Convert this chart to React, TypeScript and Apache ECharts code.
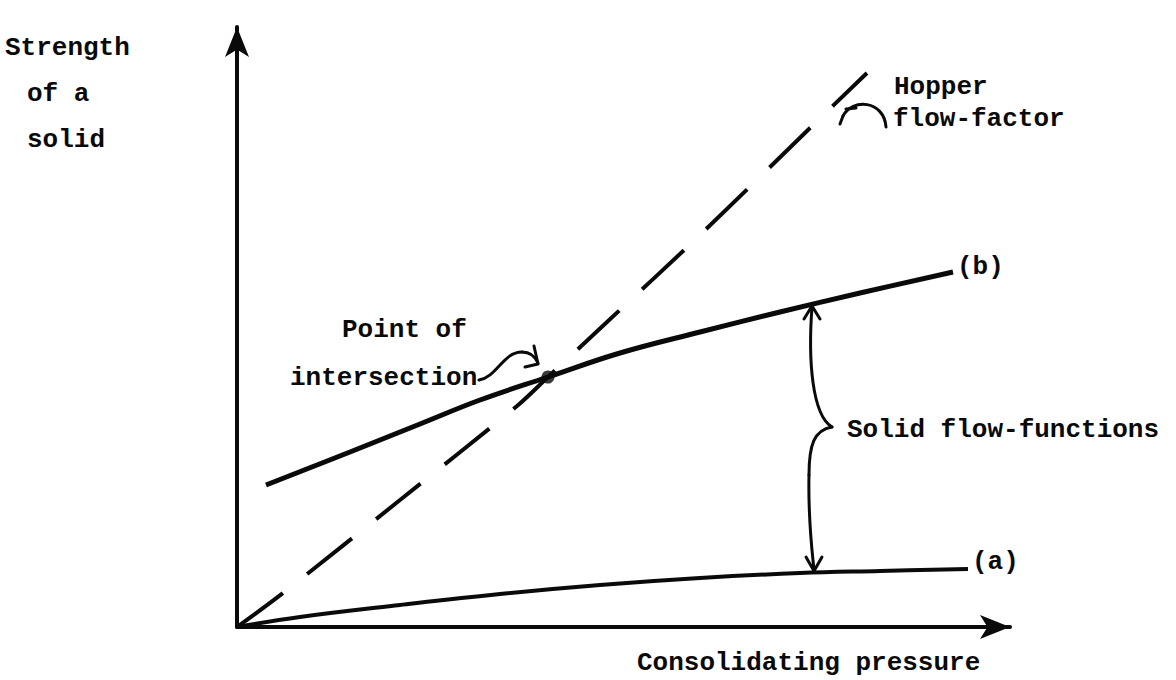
import React, { useEffect, useRef } from "react";
import * as echarts from "echarts";

// Data in chart units (x: consolidating pressure, y: strength), origin at the axes' corner
const flowFunctionA: number[][] = [
  [0, 0], [63, 10], [163, 22], [263, 33], [363, 42], [463, 49], [563, 54], [643, 56], [731, 58],
];
const flowFunctionB: number[][] = [
  [29, 142], [113, 175], [183, 203], [243, 227], [311, 250], [383, 274], [463, 295], [543, 315], [623, 334], [716, 355],
];
const hopperFlowFactor: number[][] = [
  [0, 0], [46, 34], [163, 127], [280, 221], [311, 250], [370, 305], [463, 392], [573, 499], [630, 554],
];
const intersectionPoint: number[][] = [[311, 250]];
const xMax = 773;
const yMax = 600;

const FONT = 'bold 26px "Liberation Mono", "DejaVu Sans Mono", monospace';
const INK = "#0a0a0a";

function txt(text: string, x: number, y: number) {
  return {
    type: "text",
    x,
    y,
    style: {
      text,
      font: FONT,
      fill: INK,
      verticalAlign: "middle",
      textVerticalAlign: "middle",
    },
  };
}

function stroke(w: number) {
  return { stroke: INK, lineWidth: w, fill: "none", lineCap: "round", lineJoin: "round" };
}

export default function App() {
  const ref = useRef<HTMLDivElement>(null);
  useEffect(() => {
    if (!ref.current) return;
    const chart = echarts.init(ref.current, undefined, { renderer: "svg" });
    const axisCommon = {
      type: "value",
      min: 0,
      axisLine: {
        show: true,
        symbol: ["none", "arrow"],
        symbolSize: [18, 30],
        lineStyle: { color: INK, width: 4 },
      },
      axisTick: { show: false },
      axisLabel: { show: false },
      splitLine: { show: false },
    };
    chart.setOption({
      animation: false,
      backgroundColor: "#ffffff",
      grid: { left: 237, top: 27, width: xMax, height: yMax, containLabel: false },
      xAxis: { ...axisCommon, max: xMax },
      yAxis: { ...axisCommon, max: yMax },
      series: [
        {
          name: "(a)",
          type: "line",
          data: flowFunctionA,
          smooth: 0.4,
          showSymbol: false,
          lineStyle: { color: INK, width: 4 },
        },
        {
          name: "(b)",
          type: "line",
          data: flowFunctionB,
          smooth: 0.4,
          showSymbol: false,
          lineStyle: { color: INK, width: 5 },
        },
        {
          name: "Hopper flow-factor",
          type: "line",
          data: hopperFlowFactor,
          smooth: 0.3,
          showSymbol: false,
          lineStyle: { color: INK, width: 4, type: [57, 31], cap: "butt" },
        },
        {
          name: "Point of intersection",
          type: "scatter",
          data: intersectionPoint,
          symbol: "circle",
          symbolSize: 13,
          itemStyle: { color: INK },
          z: 5,
        },
      ],
      graphic: [
        txt("Strength", 5, 48),
        txt("of a", 27, 94),
        txt("solid", 27, 140),
        txt("Hopper", 894, 87),
        txt("flow-factor", 893, 119),
        txt("(b)", 957, 267),
        txt("(a)", 972, 562),
        txt("Point of", 342, 330),
        txt("intersection", 290, 378),
        txt("Solid flow-functions", 847, 430),
        txt("Consolidating pressure", 637, 663),
        // hopper hook arrow
        {
          type: "bezierCurve",
          shape: { x1: 886, y1: 127, cpx1: 884, cpy1: 100, cpx2: 852, cpy2: 98, x2: 843, y2: 116 },
          style: stroke(3),
        },
        {
          type: "polyline",
          shape: { points: [[843, 116], [840, 124]] },
          style: stroke(3),
        },
        {
          type: "polyline",
          shape: { points: [[846, 109], [856, 108]] },
          style: stroke(3),
        },
        // intersection connector
        {
          type: "bezierCurve",
          shape: { x1: 479, y1: 380, cpx1: 497, cpy1: 377, cpx2: 503, cpy2: 352, x2: 522, y2: 352 },
          style: stroke(3),
        },
        {
          type: "bezierCurve",
          shape: { x1: 522, y1: 352, cpx1: 530, cpy1: 352, cpx2: 535, cpy2: 356, x2: 538, y2: 363 },
          style: stroke(3),
        },
        {
          type: "polyline",
          shape: { points: [[534, 346], [538, 364], [525, 367]] },
          style: stroke(3),
        },
        // brace between the flow functions
        {
          type: "bezierCurve",
          shape: { x1: 812, y1: 307, cpx1: 808, cpy1: 360, cpx2: 812, cpy2: 415, x2: 832, y2: 427 },
          style: stroke(3),
        },
        {
          type: "bezierCurve",
          shape: { x1: 832, y1: 427, cpx1: 814, cpy1: 430, cpx2: 809, cpy2: 445, x2: 809, y2: 475 },
          style: stroke(3),
        },
        {
          type: "bezierCurve",
          shape: { x1: 809, y1: 475, cpx1: 808, cpy1: 520, cpx2: 812, cpy2: 550, x2: 814, y2: 570 },
          style: stroke(3),
        },
        {
          type: "polyline",
          shape: { points: [[804, 319], [812, 306], [820, 319]] },
          style: stroke(3),
        },
        {
          type: "polyline",
          shape: { points: [[806, 557], [814, 571], [822, 557]] },
          style: stroke(3),
        },
      ],
    });
    return () => chart.dispose();
  }, []);
  return (
    <div
      ref={ref}
      style={{ position: "fixed", left: 0, top: 0, width: 1176, height: 680, background: "#fff" }}
    />
  );
}
